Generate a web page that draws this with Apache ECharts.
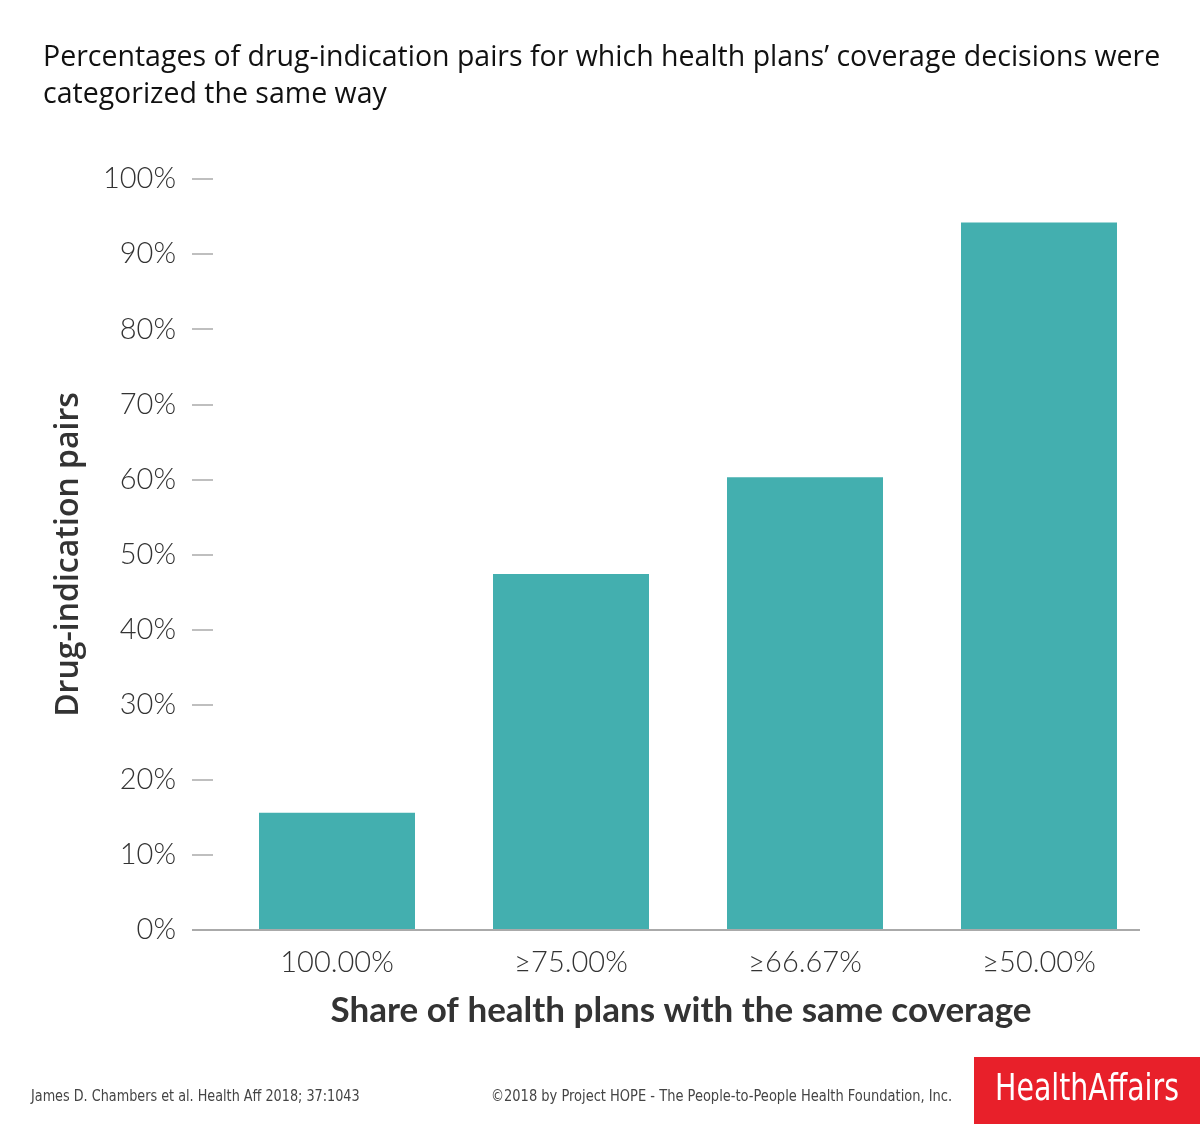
<!DOCTYPE html>
<html>
<head>
<meta charset="utf-8">
<style>
html,body{margin:0;padding:0;background:#fff;}
#chart{width:1200px;height:1124px;}
</style>
<script src="https://cdn.jsdelivr.net/npm/echarts@6/dist/echarts.min.js"></script>
</head>
<body>
<div id="chart"></div>
<script>
const categories = ['100.00%', '≥75.00%', '≥66.67%', '≥50.00%'];
const shares = [15.6, 47.4, 60.3, 94.2];
const titleText = 'Percentages of drug-indication pairs for which health plans\u2019 coverage decisions were\ncategorized the same way';
const xAxisTitle = 'Share of health plans with the same coverage';
const yAxisTitle = 'Drug-indication pairs';
const citation = 'James D. Chambers et al. Health Aff 2018; 37:1043';
const copyright = '\u00a92018 by Project HOPE - The People-to-People Health Foundation, Inc.';
const logoText = 'HealthAffairs';

const chart = echarts.init(document.getElementById('chart'));
const narrow = '"Liberation Sans Narrow", "DejaVu Sans Condensed", "Roboto", sans-serif';
chart.setOption({
  backgroundColor: '#ffffff',
  animation: false,
  title: {
    text: titleText,
    left: 43,
    top: 39,
    padding: 0,
    textStyle: {fontFamily: '"Open Sans", sans-serif', fontSize: 28.5, fontWeight: 'normal', color: '#111', lineHeight: 37}
  },
  grid: {left: 220, right: 44, top: 179, bottom: 194},
  xAxis: {
    type: 'category',
    data: categories,
    axisLine: {show: false},
    axisTick: {show: false},
    axisLabel: {fontFamily: 'Lato, sans-serif', fontWeight: 300, fontSize: 29, color: '#333', margin: 18},
    name: xAxisTitle,
    nameLocation: 'middle',
    nameGap: 63,
    nameTextStyle: {fontFamily: 'Lato, sans-serif', fontWeight: 'bold', fontSize: 35, color: '#333', padding: [0, 14, 0, 0]}
  },
  yAxis: {
    type: 'value',
    min: 0, max: 100, interval: 10,
    offset: 7,
    splitLine: {show: false},
    axisLine: {show: false},
    axisTick: {show: true, length: 21, lineStyle: {color: '#aaa', width: 1.5}},
    axisLabel: {formatter: '{value}%', fontFamily: 'Lato, sans-serif', fontWeight: 300, fontSize: 29, color: '#333', margin: 37},
    name: yAxisTitle,
    nameLocation: 'middle',
    nameGap: 128,
    nameTextStyle: {fontFamily: '"Open Sans", sans-serif', fontWeight: 600, fontSize: 32, color: '#333'}
  },
  series: [{
    type: 'bar',
    data: shares,
    barWidth: 156,
    itemStyle: {color: '#43afaf'}
  }],
  graphic: [
    {type: 'line', shape: {x1: 192, y1: 930, x2: 1140, y2: 930}, style: {stroke: '#aaa', lineWidth: 2}, z: 10},
    {type: 'text', x: 31, y: 1097, scaleX: 0.89, style: {text: citation, fontFamily: narrow, fontSize: 16, fill: '#444', verticalAlign: 'middle'}},
    {type: 'text', x: 491, y: 1097, scaleX: 0.905, style: {text: copyright, fontFamily: narrow, fontSize: 16, fill: '#444', verticalAlign: 'middle'}},
    {type: 'rect', shape: {x: 974, y: 1057, width: 226, height: 67}, style: {fill: '#e8202a'}},
    {type: 'text', x: 1087, y: 1090, scaleX: 0.83, style: {text: logoText, fontFamily: narrow, fontSize: 38, fill: '#fff', align: 'center', verticalAlign: 'middle'}}
  ]
});
</script>
</body>
</html>
